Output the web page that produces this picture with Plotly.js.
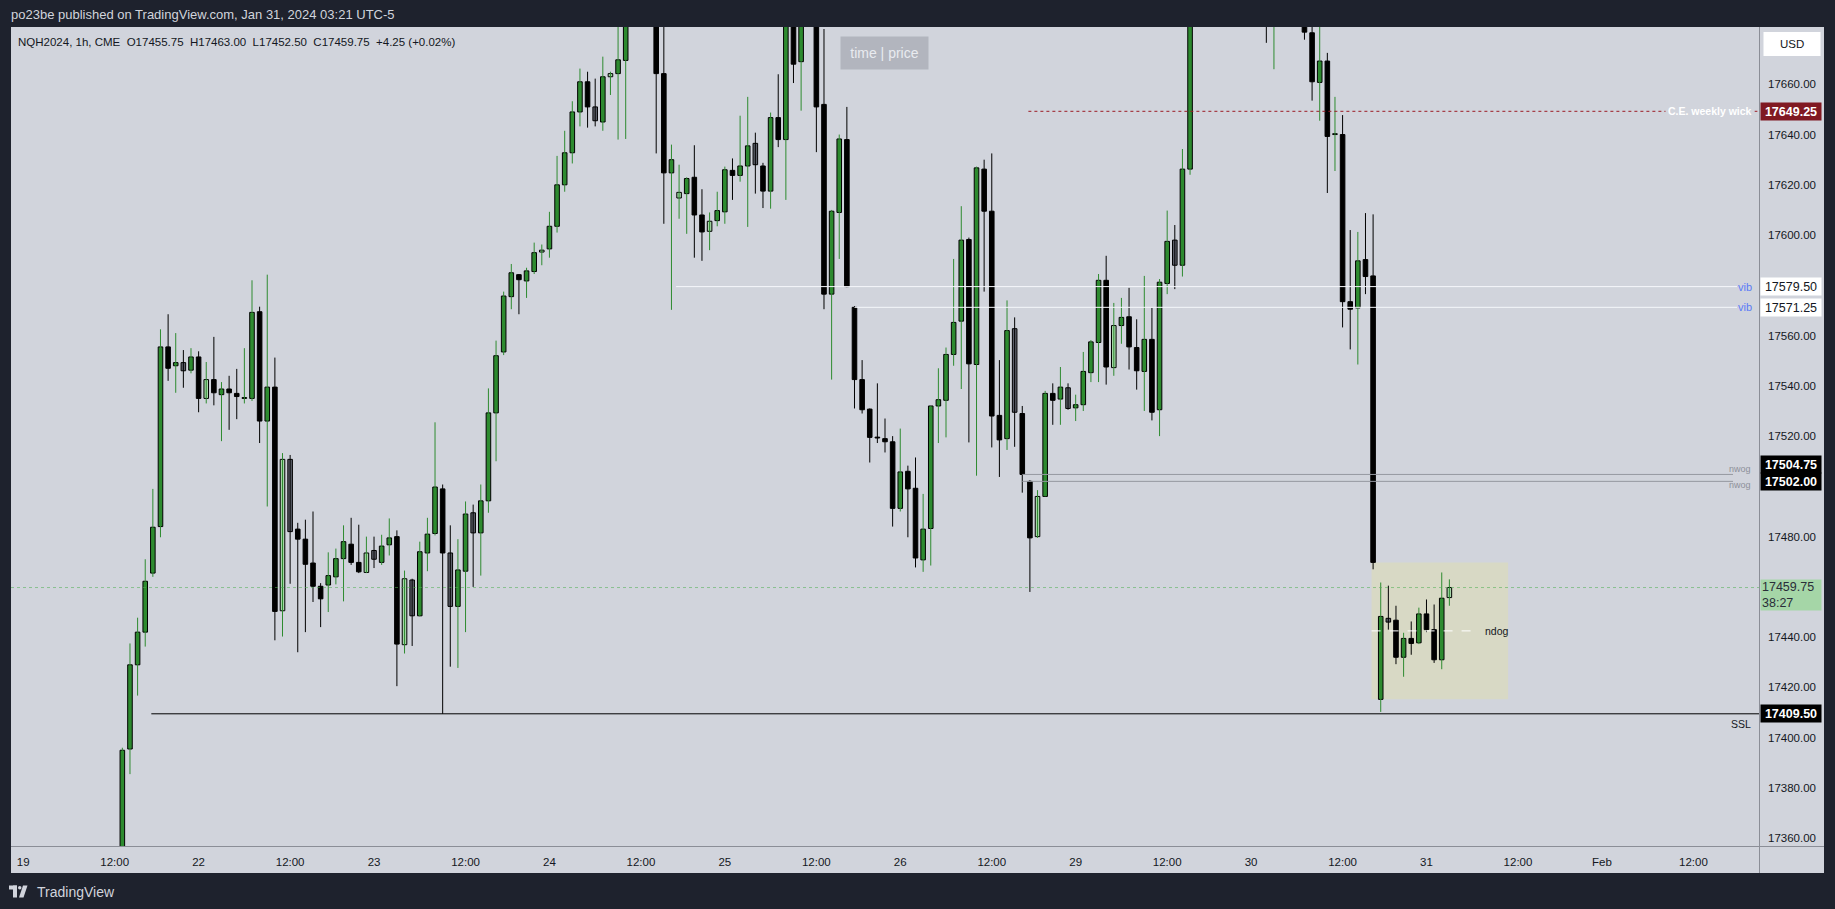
<!DOCTYPE html>
<html>
<head>
<meta charset="utf-8">
<script src="https://cdn.plot.ly/plotly-3.0.1.min.js"></script>
<style>
html,body{margin:0;padding:0;background:#1e222d;overflow:hidden;}
#chart{width:1835px;height:909px;}
</style>
</head>
<body>
<div id="chart"></div>
<script>
// ---------------- DATA ----------------
const symbolInfo = 'NQH2024, 1h, CME';
const publishedText = 'po23be published on TradingView.com, Jan 31, 2024 03:21 UTC-5';
const countdown = '38:27';
const firstBarTime = '2024-01-19 13:00';

const opens = [
17345,17395.5,17429,17442,17465.5,17484,17555.5,17548,17549.25,17546.25,
17551.5,17535,17542.5,17536.5,17538.75,17537,17535,17535,17569.5,17526,
17539.5,17450.5,17510.75,17483,17479,17469.5,17460.25,17460.75,17464,17471.25,
17477,17469.75,17465.75,17474.5,17469.75,17476.75,17480,17437,17462.75,17448.5,
17473.5,17481.25,17499,17473.5,17452.25,17466.25,17489.5,17481.5,17494.25,17529.25,
17553.5,17575.5,17584.25,17581.75,17585.5,17593.25,17594.5,17603.5,17620,17632.75,
17649,17661,17651,17645,17663,17664.25,17669.5,17705,17738,17730,
17700,17664.25,17624.75,17614.75,17616.5,17623,17608,17601.5,17605.75,17609.25,
17625.75,17623.75,17627.5,17636.5,17627.5,17617.5,17646.75,17638,17695,17669,
17690,17700,17652,17576.5,17609,17638,17571.25,17542.5,17530.75,17519.5,
17519,17517.75,17491.25,17506,17499.25,17470.75,17483.25,17532,17534.25,17552.5,
17565.75,17598.25,17548.5,17626.25,17609.5,17528.25,17519,17562.75,17529,17502,
17480,17496,17537,17534.75,17539.25,17531.25,17532.5,17545.25,17557.25,17582,
17547.25,17564,17567.5,17555.25,17545.75,17558.5,17530.5,17580.75,17598,17588,
17626.25,17700,17712,17708,17711,17719,17716,17722,17731,17726,
17718,17700,17706,17712,17708,17698,17680.5,17660.75,17669.25,17640,
17640,17573.5,17571,17590.25,17583.75,17415.25,17447.5,17446.75,17432,17439.5,
17437.75,17449.25,17443,17431,17455.75];
const highs = [
17396,17437.5,17447.75,17471,17499,17562.5,17568.5,17561,17554.25,17555,
17553.75,17549.5,17559.5,17541.5,17544,17546.75,17555,17582,17571.5,17584.25,
17551.25,17513.25,17512.5,17485.5,17486.75,17490,17461.5,17473.75,17475.25,17484.5,
17487.5,17484.75,17480,17480,17480.75,17487.25,17482.5,17466.5,17463.25,17478,
17487.5,17525.5,17500.75,17484.5,17479,17494,17492.75,17500.75,17539,17558,
17577.5,17588.5,17584.5,17587,17597,17596.25,17609.25,17631.5,17641.5,17653.25,
17666.25,17665,17662.25,17671,17665,17690,17712,17745,17760,17740,
17706,17688,17636,17628,17623,17635.75,17618.25,17609,17617.25,17627.25,
17630.5,17647.5,17655,17640.75,17628.75,17648.75,17664,17700,17702,17698,
17705,17705,17682,17610,17640,17651,17571.75,17550.25,17531,17541,
17527,17520,17523,17508.25,17511.5,17497,17532,17547,17555.25,17590.5,
17611.5,17599,17627.25,17630,17632.5,17550.25,17574,17567.25,17532,17502.5,
17498.5,17538,17541,17547.5,17541,17536.5,17553.5,17558.25,17584.5,17591.75,
17573,17575,17579,17566.5,17583.75,17571,17582.5,17609.75,17604,17634.25,
17705,17722,17720,17716,17724,17730,17728,17736,17740,17734,
17725,17712,17718,17720,17714,17702,17690,17688,17672.5,17655,
17647.75,17602,17601.25,17608.75,17608.25,17461.75,17460.5,17452.5,17441.75,17446.25,
17451.75,17455,17453,17465.75,17463];
const lows = [
17338,17385.5,17416.75,17436.25,17464,17479.75,17542,17537.25,17539.25,17545,
17529.5,17533,17532.25,17518,17522.5,17526.75,17533,17534,17517.25,17492,
17438.75,17440.25,17461.25,17434,17442,17454,17444,17450,17461,17454.25,
17468.75,17465.5,17465.5,17467.5,17468.75,17472.5,17420.5,17433.5,17436.5,17448.25,
17466.25,17480.5,17409.5,17428.25,17427.75,17442,17460,17464.5,17489.5,17510,
17552.25,17570.5,17568.5,17575,17584.5,17588,17591,17601,17617.25,17628.5,
17643.25,17642.75,17643.25,17641.5,17655.75,17638,17638.25,17700,17725,17695,
17632.5,17604.5,17570.25,17606.5,17600.5,17591,17589.75,17594,17603.5,17604.5,
17614,17621.25,17603.25,17616.5,17610.75,17610.5,17635,17614,17660.5,17649.5,
17686,17633,17570.5,17542.5,17590.5,17579.25,17531,17529,17509.5,17517.25,
17513.5,17484,17490,17479.75,17467.75,17466,17468.5,17517.25,17519.5,17548,
17538.75,17517.5,17504.25,17577.5,17515.5,17503.75,17514.5,17515.75,17497.5,17458,
17479.5,17496,17524.5,17524.5,17530.5,17526,17530,17541.5,17541.5,17540.5,
17544,17556.75,17546.5,17538.5,17530,17526.25,17520,17576.5,17578.5,17583.5,
17624,17694,17702,17700,17706,17712,17709,17715,17720,17712,
17676.5,17666,17700,17702,17694,17677.75,17653.5,17645.5,17616.75,17625.5,
17563.25,17554.5,17548.5,17576.5,17467,17410.25,17443,17429.25,17424.25,17433,
17437.25,17442,17429.75,17427.25,17452.5];
const closes = [
17395,17429,17442,17462.25,17483.75,17555.5,17547,17549.25,17546,17551.5,
17535,17542.5,17537.25,17538.75,17537.25,17535.75,17535,17569.25,17526,17539.5,
17450.25,17510.75,17482,17479,17469,17460.25,17455.25,17464.5,17471.25,17478,
17469.75,17466,17473.5,17471,17476.25,17479.5,17437.25,17463.25,17448.5,17474,
17481,17499.75,17473.5,17452.25,17466.75,17489,17481.5,17494.25,17529.25,17552,
17575.75,17585,17582.25,17585.75,17593,17594,17603.5,17620,17632.75,17649,
17661,17651,17645.5,17663,17664.25,17669.75,17705,17738,17730,17700,
17664.25,17624.75,17630,17617,17622.5,17608,17601.25,17605.5,17609.75,17626,
17623.75,17627.5,17635.5,17628,17617.5,17646.75,17638,17695,17668,17690,
17700,17651,17576.5,17609.5,17638.25,17579.5,17542.5,17530.5,17519.5,17519.25,
17517.75,17491.25,17505.75,17499,17471.5,17483,17532,17534.5,17552.5,17565.25,
17598,17548.75,17626.75,17609.5,17528,17518.5,17562,17529.5,17504.75,17479.5,
17496,17537,17534.25,17539.5,17531,17532.5,17545.75,17557.5,17582,17547.5,
17564,17567.25,17555.5,17546,17558.5,17529.5,17581.25,17597.5,17588,17626.25,
17700,17715,17708,17711,17719,17716,17722,17731,17726,17718,
17700,17706,17712,17708,17698,17680.75,17661,17669.25,17639.25,17640,
17573.5,17570.5,17589.75,17583.5,17469.75,17448.25,17446,17432,17439.5,17437.5,
17449.25,17443,17431,17455.5,17459.75];

// drawn levels (prices) and their labels
const levelPrices = [17649.25, 17579.50, 17571.25, 17504.75, 17502.00, 17409.50];
const levelLabels = ['C.E. weekly wick', 'vib', 'vib', 'nwog', 'nwog', 'SSL'];
const levelStartTimes = ['2024-01-28 18:00', '2024-01-24 18:00', '2024-01-25 18:00', '2024-01-26 16:00', '2024-01-26 16:00', '2024-01-21 18:00'];

// axis ticks
const yTickVals = [17360,17380,17400,17420,17440,17480,17520,17540,17560,17600,17620,17640,17660];
const xTickTimes = ['2024-01-19 00:00','2024-01-19 12:00','2024-01-22 00:00','2024-01-22 12:00','2024-01-23 00:00','2024-01-23 12:00',
  '2024-01-24 00:00','2024-01-24 12:00','2024-01-25 00:00','2024-01-25 12:00','2024-01-26 00:00','2024-01-26 12:00',
  '2024-01-29 00:00','2024-01-29 12:00','2024-01-30 00:00','2024-01-30 12:00','2024-01-31 00:00','2024-01-31 12:00',
  '2024-02-01 00:00','2024-02-01 12:00'];
const xTickLabels = ['19','12:00','22','12:00','23','12:00','24','12:00','25','12:00','26','12:00','29','12:00','30','12:00','31','12:00','Feb','12:00'];

// ---------------- TIME SLOTS (CME session: 17:00 break, weekend closed) ----------------
function parseT(s){const [d,t]=s.split(' ');const [Y,M,D]=d.split('-').map(Number);const [h,m]=t.split(':').map(Number);return Date.UTC(Y,M-1,D,h,m);}
function isOpen(ms){const dt=new Date(ms);const wd=dt.getUTCDay(),h=dt.getUTCHours();
  if(h===17)return false; if(wd===6)return false; if(wd===5&&h>17)return false; if(wd===0&&h<18)return false; return true;}
const slots=[]; for(let t=parseT('2024-01-19 00:00'); slots.length<260; t+=3600000){ if(isOpen(t)) slots.push(t); }
const slotOf = s => slots.indexOf(parseT(s));

const i0 = slotOf(firstBarTime);
const xs = opens.map((_,k)=>i0+k);
const n = opens.length;

// ---------------- GEOMETRY ----------------
const FONT = 'Liberation Sans, Arial, sans-serif';
const PL=11, PR=1759, PT=27, PB=846;
const xRange=[-1.6, 227.6], yRange=[17356.9, 17682.8];
const px = x => (x-PL)/(PR-PL);
const py = y => (PB-y)/(PB-PT);
const ix = i => (i-xRange[0])/(xRange[1]-xRange[0]);

// candle classification
const up = opens.map((o,k)=>closes[k]>=o);
const inside = opens.map((_,k)=>k>0 && highs[k]<=highs[k-1] && lows[k]>=lows[k-1]);
const bodyColors = opens.map((_,k)=> inside[k] ? (up[k]?'#a5d6a7':'#5d606b') : (up[k]?'#2e8b30':'#000000'));

const wx={g:[],b:[]}, wy={g:[],b:[]};
xs.forEach((x,k)=>{const key=up[k]?'g':'b'; wx[key].push(x,x,null); wy[key].push(lows[k],highs[k],null);});

const traces = [
  {type:'scatter',mode:'lines',x:wx.g,y:wy.g,line:{color:'#2e8b30',width:1},hoverinfo:'skip',showlegend:false},
  {type:'scatter',mode:'lines',x:wx.b,y:wy.b,line:{color:'#000000',width:1},hoverinfo:'skip',showlegend:false},
  {type:'bar',x:xs,base:opens.map((o,k)=>Math.min(o,closes[k])),y:opens.map((o,k)=>Math.max(Math.abs(closes[k]-o),0.35)),
   width:0.6,marker:{color:bodyColors,line:{color:'#000000',width:1}},hoverinfo:'skip',showlegend:false}
];

// ---------------- SHAPES ----------------
const last = n-1;
const lastClose = closes[last];
const gapIdx = closes.findIndex((c,k)=>k>0 && Math.abs(opens[k]-closes[k-1])>40 && xs[k]>170); // ndog bar
const ndogTop = closes[gapIdx-1], ndogBot = opens[gapIdx];
const ndogMid = (ndogTop+ndogBot)/2;
const ndogX0 = xs[gapIdx-1]-0.2;

const shapes = [
  // panel background
  {type:'rect',xref:'paper',yref:'paper',x0:px(11),x1:px(1824),y0:py(873),y1:py(27),fillcolor:'#d1d4dc',line:{width:0},layer:'below'},
  // ndog box
  {type:'rect',xref:'x',yref:'y',x0:ndogX0,x1:ndogX0+17.9,y0:ndogBot,y1:ndogTop,fillcolor:'#d8d9c5',line:{width:0},layer:'below'},
  // current price dotted line
  {type:'line',xref:'paper',yref:'y',x0:0,x1:1,y0:lastClose,y1:lastClose,line:{color:'rgba(76,175,80,0.55)',width:1,dash:'dot'},layer:'above'},
  // ndog midline
  {type:'line',xref:'x',yref:'y',x0:ndogX0,x1:ndogX0+13.8,y0:ndogMid,y1:ndogMid,line:{color:'#ffffff',width:1,dash:'dash'},layer:'above'},
  // separators
  {type:'line',xref:'paper',yref:'paper',x0:px(1759.5),x1:px(1759.5),y0:py(27),y1:py(873),line:{color:'#8b8e97',width:1}},
  {type:'line',xref:'paper',yref:'paper',x0:px(11),x1:px(1824),y0:py(846.5),y1:py(846.5),line:{color:'#8b8e97',width:1}},
  // USD box
  {type:'rect',xref:'paper',yref:'paper',x0:px(1763.5),x1:px(1820.5),y0:py(56),y1:py(32),fillcolor:'#ffffff',line:{width:0}},
  // TradingView logo icon
  {type:'rect',xref:'paper',yref:'paper',x0:px(9),x1:px(17),y0:py(889.5),y1:py(885.5),fillcolor:'#d1d4dc',line:{width:0}},
  {type:'rect',xref:'paper',yref:'paper',x0:px(13),x1:px(17),y0:py(897.5),y1:py(885.5),fillcolor:'#d1d4dc',line:{width:0}},
  {type:'circle',xref:'paper',yref:'paper',x0:px(18),x1:px(21.5),y0:py(889.5),y1:py(886),fillcolor:'#d1d4dc',line:{width:0}},
  {type:'path',xref:'paper',yref:'paper',path:`M ${px(23)} ${py(885.5)} L ${px(27.5)} ${py(885.5)} L ${px(23.5)} ${py(897.5)} L ${px(19)} ${py(897.5)} Z`,fillcolor:'#d1d4dc',line:{width:0}}
];

const levelStyles = [
  {color:'#9b1b25',dash:'dot',end:1,off:-0.2},
  {color:'#f5f7fb',dash:'solid',end:px(1737),off:-0.4},
  {color:'#f5f7fb',dash:'solid',end:px(1737),off:0},
  {color:'#9598a1',dash:'solid',end:px(1733),off:0},
  {color:'#9598a1',dash:'solid',end:px(1733),off:0},
  {color:'#000000',dash:'solid',end:1,off:-0.2}
];
levelPrices.forEach((p,k)=>{
  const st = levelStyles[k];
  shapes.push({type:'line',xref:'paper',yref:'y',x0:ix(slotOf(levelStartTimes[k])+st.off),x1:st.end,y0:p,y1:p,line:{color:st.color,width:1,dash:st.dash},layer:'above'});
});

// ---------------- ANNOTATIONS ----------------
const sp = '\u00a0\u00a0';
const fmt = v => v.toFixed(2);
const chg = closes[last]-closes[last-1];
const legendText = `${symbolInfo}${sp}O${fmt(opens[last])}${sp}H${fmt(highs[last])}${sp}L${fmt(lows[last])}${sp}C${fmt(closes[last])}${sp}${chg>=0?'+':''}${fmt(chg)} (${chg>=0?'+':''}${fmt(chg/closes[last-1]*100)}%)`;

function tag(price, text, bg, fg, bold, yshift, h){
  return {xref:'paper',yref:'y',x:1,y:price,xanchor:'left',yanchor:'middle',xshift:1,yshift:yshift||0,
    text: bold?`<b>${text}</b>`:text, showarrow:false,bgcolor:bg,borderpad:1,width:58,height:h||15,align:'center',
    font:{family:FONT,size:12.5,color:fg}};
}

const annotations = [
  {xref:'paper',yref:'paper',x:px(9),y:py(14.5),xanchor:'left',yanchor:'middle',text:publishedText,showarrow:false,font:{family:FONT,size:13,color:'#d1d4dc'}},
  {xref:'paper',yref:'paper',x:px(16),y:py(41.5),xanchor:'left',yanchor:'middle',text:legendText,showarrow:false,font:{family:FONT,size:11.5,color:'#131722'}},
  {xref:'paper',yref:'paper',x:px(884.5),y:py(53),xanchor:'center',yanchor:'middle',text:'time | price',showarrow:false,bgcolor:'#b2b5be',width:85,height:30,borderpad:1,font:{family:FONT,size:14,color:'#e9ebf0'}},
  {xref:'paper',yref:'paper',x:px(1792),y:py(44),xanchor:'center',yanchor:'middle',text:'USD',showarrow:false,font:{family:FONT,size:11.5,color:'#131722'}},
  {xref:'paper',yref:'paper',x:px(35),y:py(892),xanchor:'left',yanchor:'middle',text:'TradingView',showarrow:false,font:{family:FONT,size:14,color:'#d1d4dc'}},
  // level labels
  {xref:'paper',yref:'y',x:px(1755),y:levelPrices[0],xanchor:'right',yanchor:'middle',text:`<b>${levelLabels[0]}</b>`,showarrow:false,bgcolor:'#d1d4dc',borderpad:2,font:{family:FONT,size:10.5,color:'#ffffff'}},
  {xref:'paper',yref:'y',x:px(1754),y:levelPrices[1],xanchor:'right',yanchor:'middle',text:levelLabels[1],showarrow:false,font:{family:FONT,size:11,color:'#5b7bf6'}},
  {xref:'paper',yref:'y',x:px(1754),y:levelPrices[2],xanchor:'right',yanchor:'middle',text:levelLabels[2],showarrow:false,font:{family:FONT,size:11,color:'#5b7bf6'}},
  {xref:'paper',yref:'y',x:px(1753),y:levelPrices[3],xanchor:'right',yanchor:'bottom',yshift:-2,text:levelLabels[3],showarrow:false,font:{family:FONT,size:9,color:'#8d909a'}},
  {xref:'paper',yref:'y',x:px(1753),y:levelPrices[4],xanchor:'right',yanchor:'top',yshift:3,text:levelLabels[4],showarrow:false,font:{family:FONT,size:9,color:'#8d909a'}},
  {xref:'paper',yref:'y',x:px(1753),y:levelPrices[5],xanchor:'right',yanchor:'top',yshift:-2,text:levelLabels[5],showarrow:false,font:{family:FONT,size:10.5,color:'#131722'}},
  {xref:'x',yref:'y',x:ndogX0+14.6,y:ndogMid,xanchor:'left',yanchor:'middle',text:'ndog',showarrow:false,font:{family:FONT,size:10.5,color:'#131722'}},
  // price tags
  tag(levelPrices[0], fmt(levelPrices[0]), '#801922', '#ffffff', true),
  tag(levelPrices[1], fmt(levelPrices[1]), '#ffffff', '#131722', false),
  tag(levelPrices[2], fmt(levelPrices[2]), '#ffffff', '#131722', false),
  tag(levelPrices[3], fmt(levelPrices[3]), '#000000', '#ffffff', true, 9.7),
  tag(levelPrices[4], fmt(levelPrices[4]), '#000000', '#ffffff', true),
  tag(levelPrices[5], fmt(levelPrices[5]), '#000000', '#ffffff', true),
  {xref:'paper',yref:'y',x:1,y:lastClose,xanchor:'left',yanchor:'top',xshift:1,yshift:8.5,text:`${fmt(lastClose)}<br>${countdown}`,showarrow:false,
   bgcolor:'#a5d6a7',borderpad:1,width:58,height:28,align:'left',font:{family:FONT,size:12.5,color:'#2a2e39'}}
];

const layout = {
  width:1835,height:909,
  margin:{l:PL,r:1835-PR,t:PT,b:909-PB,pad:0},
  paper_bgcolor:'#1e222d',plot_bgcolor:'#d1d4dc',
  showlegend:false,hovermode:false,barmode:'overlay',
  xaxis:{range:xRange,showgrid:false,zeroline:false,showline:false,ticks:'',tickvals:xTickTimes.map(slotOf),ticktext:xTickLabels,
    tickfont:{family:FONT,size:11.5,color:'#131722'},ticklabelstandoff:7,fixedrange:true,automargin:false},
  yaxis:{range:yRange,side:'right',showgrid:false,zeroline:false,showline:false,ticks:'',tickvals:yTickVals,tickformat:'.2f',
    tickfont:{family:FONT,size:11.5,color:'#131722'},ticklabelstandoff:8,fixedrange:true,automargin:false},
  shapes:shapes,annotations:annotations,
  font:{family:FONT}
};

Plotly.newPlot('chart',traces,layout,{displayModeBar:false,staticPlot:true});
</script>
</body>
</html>
